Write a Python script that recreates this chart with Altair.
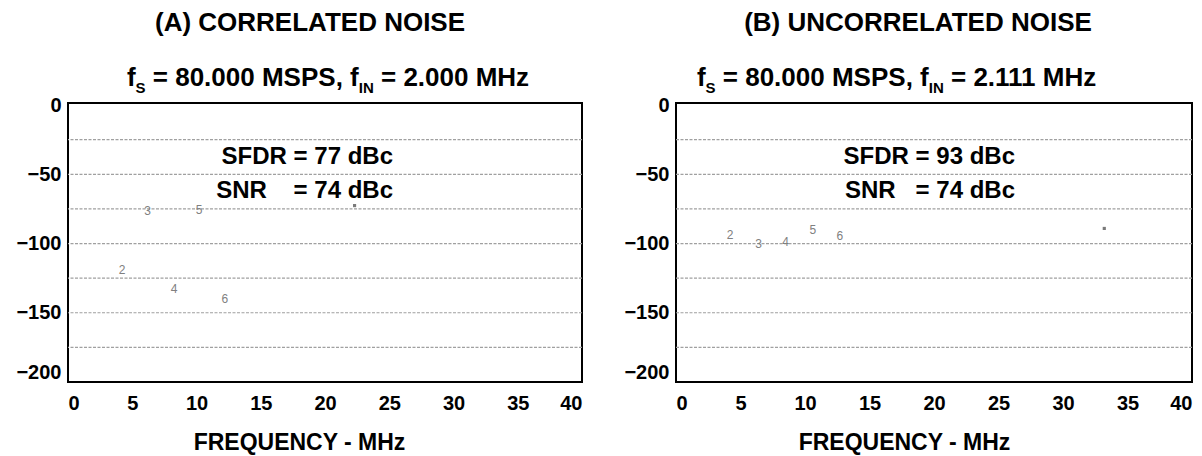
import altair as alt
import pandas as pd

FONT = "Liberation Sans, Arial, Helvetica, sans-serif"

# ---- data ----
x_ticks = [0, 5, 10, 15, 20, 25, 30, 35, 40]
y_ticks = [0, -50, -100, -150, -200]
grid_levels = [-25, -50, -75, -100, -125, -150, -175]

# (A) correlated noise, fIN = 2.000 MHz
a_harm_freq = [4.2, 6.2, 8.25, 10.2, 12.2]
a_harm_db = [-119.4, -76.2, -133.0, -76.0, -140.2]
a_harm_lab = ["2", "3", "4", "5", "6"]
a_spur_freq = [22.3]
a_spur_db = [-72.6]

# (B) uncorrelated noise, fIN = 2.111 MHz
b_harm_freq = [4.2, 6.4, 8.5, 10.6, 12.7]
b_harm_db = [-93.5, -100.6, -99.2, -89.9, -94.2]
b_harm_lab = ["2", "3", "4", "5", "6"]
b_spur_freq = [33.2]
b_spur_db = [-89.1]

a_title = "(A) CORRELATED NOISE"
b_title = "(B) UNCORRELATED NOISE"
a_fin = "2.000"
b_fin = "2.111"
a_sfdr = "SFDR = 77 dBc"
b_sfdr = "SFDR = 93 dBc"
a_snr = "SNR\u00a0\u00a0\u00a0\u00a0= 74 dBc"
b_snr = "SNR\u00a0\u00a0\u00a0= 74 dBc"
x_title = "FREQUENCY - MHz"

# Arial-bold advance widths (per 1000 em) used only to lay out the subscripted subtitle
AW = {'f': 333, 'S': 667, ' ': 278, '\u00a0': 278, '=': 584, '0': 556, '1': 556, '2': 556,
      '8': 556, '.': 278, ',': 278, 'M': 833, 'P': 667, 'I': 278, 'N': 722, 'H': 722, 'z': 500}


def tw(s, size):
    return sum(AW[c] for c in s) * size / 1000.0


MAIN = 26
SUB = 15
one = pd.DataFrame({"k": [0]})


def text_layer(txt, x, y, size, align="left", weight="bold", baseline="alphabetic"):
    return alt.Chart(one).mark_text(
        text=txt, align=align, baseline=baseline, font=FONT,
        fontSize=size, fontWeight=weight, color="black"
    ).encode(x=alt.value(x), y=alt.value(y))


def panel(hf, hd, hl, sf, sd, title, fin, sfdr, snr, width, sub_center, ann_x, axis_title_x):
    xs = alt.Scale(domain=[0, 40], nice=False, zero=False)
    ys = alt.Scale(domain=[-200, 1.5], nice=False, zero=False)
    xaxis = alt.Axis(values=x_ticks, grid=False, ticks=False, domain=False, labelAngle=0,
                     labelFont=FONT, labelFontSize=20, labelFontWeight="bold", labelColor="black",
                     labelPadding=11, title=x_title, titleFont=FONT, titleFontSize=23,
                     titleFontWeight="bold", titleColor="black", titleX=axis_title_x, titleY=67,
                     titleAlign="center", titleBaseline="alphabetic")
    yaxis = alt.Axis(values=y_ticks, grid=False, ticks=False, domain=False,
                     labelFont=FONT, labelFontSize=20, labelFontWeight="bold", labelColor="black",
                     labelPadding=7, labelFlush=True, title=None, minExtent=54, maxExtent=54)

    grid = alt.Chart(pd.DataFrame({"v": grid_levels})).mark_rule(
        color="#a0a0a0", strokeWidth=1.2, strokeDash=[3, 1.5]
    ).encode(y=alt.Y("v:Q", scale=ys, axis=yaxis))

    harm = alt.Chart(pd.DataFrame({"f": hf, "db": hd, "lab": hl})).mark_text(
        font=FONT, fontSize=12, color="#808080", baseline="middle", align="center"
    ).encode(x=alt.X("f:Q", scale=xs, axis=xaxis), y=alt.Y("db:Q", scale=ys, axis=yaxis), text="lab:N")

    spur = alt.Chart(pd.DataFrame({"f": sf, "db": sd})).mark_square(
        size=10, color="#7a7a7a", opacity=1
    ).encode(x=alt.X("f:Q", scale=xs, axis=xaxis), y=alt.Y("db:Q", scale=ys, axis=yaxis))

    layers = [grid, harm, spur,
              text_layer(sfdr, ann_x, 61, 24, align="right"),
              text_layer(snr, ann_x, 95, 24, align="right"),
              text_layer(title, 242, -72, MAIN, align="center")]

    # subtitle with subscripts: f_S = 80.000 MSPS, f_IN = x MHz  (spaces handled as offsets)
    sp = tw(" ", MAIN)
    pieces = [("f", MAIN, -17, 0), ("S", SUB, -10, 0),
              ("=\u00a080.000\u00a0MSPS,\u00a0f", MAIN, -17, sp), ("IN", SUB, -10, 0),
              ("=\u00a0" + fin + "\u00a0MHz", MAIN, -17, sp)]
    total = sum(tw(p, s) + g for p, s, _, g in pieces)
    x0 = sub_center - total / 2.0
    for p, s, y, g in pieces:
        x0 += g
        layers.append(text_layer(p, x0, y, s))
        x0 += tw(p, s)

    return alt.layer(*layers).properties(width=width, height=279)


left = panel(a_harm_freq, a_harm_db, a_harm_lab, a_spur_freq, a_spur_db,
             a_title, a_fin, a_sfdr, a_snr, 514, 260, 325, 231)
right = panel(b_harm_freq, b_harm_db, b_harm_lab, b_spur_freq, b_spur_db,
              b_title, b_fin, b_sfdr, b_snr, 516, 222, 339, 228)

chart = alt.hconcat(left, right, spacing=37).properties(
    padding={"left": 5, "top": 1, "right": 0, "bottom": 0}
).configure(background="white").configure_view(stroke="black", strokeWidth=2)

chart.save("out.html", embed_options={"renderer": "svg", "actions": False})
